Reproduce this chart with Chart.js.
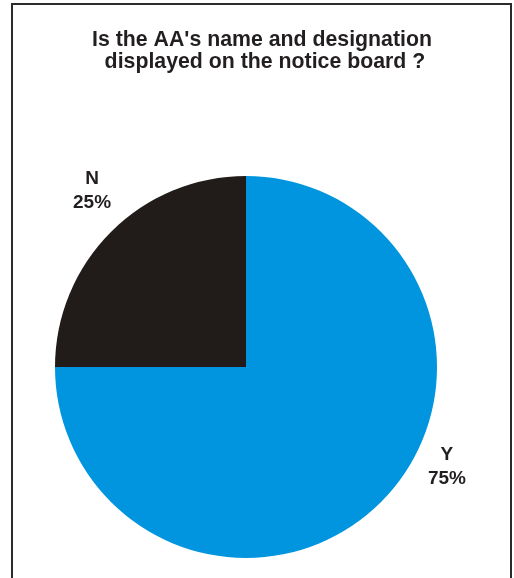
<!DOCTYPE html>
<html>
<head>
<meta charset="utf-8">
<script src="https://cdn.jsdelivr.net/npm/chart.js@4"></script>
<style>
  html, body { margin: 0; padding: 0; background: #fff; }
  #wrap { width: 514px; height: 578px; }
</style>
</head>
<body>
<div id="wrap"><canvas id="noticeChart" width="514" height="578"></canvas></div>
<script>
// answers and share of respondents
const answers = ['Y', 'N'];
const shares = [75, 25];
const titleLines = ["Is the AA's name and designation", " displayed on the notice board ?"];

const sliceColors = ['#0095DE', '#211C1A'];
const textColor = '#231F20';
const titleFont = 'bold 21.3px "Liberation Sans", Arial, sans-serif';
const labelFont = 'bold 19px "Liberation Sans", Arial, sans-serif';
// where each label sits, in units of the pie radius from its centre
const labelSpots = [[1.052, 0.513], [-0.806, -0.932]];

const framePlugin = {
    id: 'frame',
    afterDraw(chart) {
        const ctx = chart.ctx;
        ctx.save();
        // outer frame (open at the bottom)
        ctx.strokeStyle = '#2B2B2B';
        ctx.lineWidth = 2;
        ctx.beginPath();
        ctx.moveTo(12, 600);
        ctx.lineTo(12, 4);
        ctx.lineTo(511, 4);
        ctx.lineTo(511, 600);
        ctx.stroke();

        // heading
        ctx.fillStyle = textColor;
        ctx.font = titleFont;
        ctx.textAlign = 'center';
        ctx.textBaseline = 'alphabetic';
        titleLines.forEach((line, i) => ctx.fillText(line, 262, 45.5 + i * 22.5));

        // slice labels
        ctx.font = labelFont;
        const arcs = chart.getDatasetMeta(0).data;
        arcs.forEach((arc, i) => {
            const r = arc.outerRadius;
            const x = arc.x + labelSpots[i][0] * r;
            const y = arc.y + labelSpots[i][1] * r;
            ctx.fillText(answers[i], x, y - 5);
            ctx.fillText(shares[i] + '%', x, y + 19);
        });
        ctx.restore();
    }
};

const ctx = document.getElementById('noticeChart').getContext('2d');
new Chart(ctx, {
    type: 'pie',
    data: {
        labels: answers,
        datasets: [{
            data: shares,
            backgroundColor: sliceColors,
            borderWidth: 0
        }]
    },
    options: {
        responsive: false,
        animation: false,
        layout: { padding: { left: 55, right: 77, top: 176, bottom: 20 } },
        plugins: {
            legend: { display: false },
            title: { display: false },
            tooltip: { enabled: false }
        }
    },
    plugins: [framePlugin]
});
</script>
</body>
</html>
